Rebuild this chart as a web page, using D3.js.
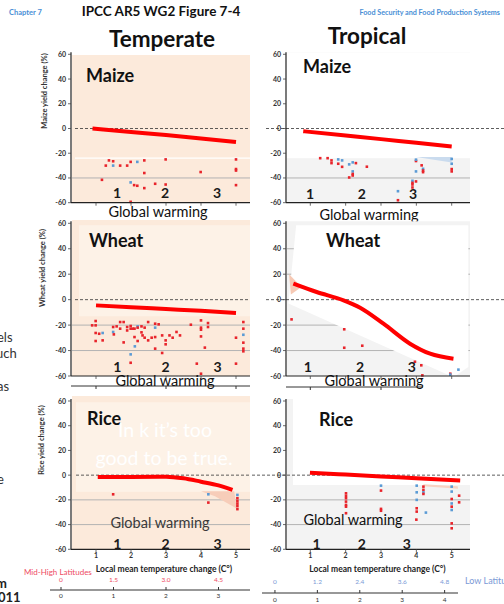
<!DOCTYPE html>
<html>
<head>
<meta charset="utf-8">
<script src="https://cdn.jsdelivr.net/npm/d3@7"></script>
<style>
  body { margin: 0; background: #fff; }
  svg { display: block; font-family: Lato, 'Open Sans', sans-serif; }
</style>
</head>
<body>
<svg id="chart" width="504" height="604"></svg>
<script>
// values: [local temperature change, yield change %, model group]
const maizeTemperate = [
  [1.17, -41.5, 'r'], [1.28, -30, 'r'], [1.37, -25.8, 'r'], [1.49, -26.5, 'r'], [1.49, -30, 'b'],
  [1.69, -30, 'r'], [1.89, -30, 'r'], [1.99, -27, 'r'], [2.18, -27, 'b'], [2.38, -25.8, 'r'],
  [2.38, -36, 'r'], [2.38, -48.2, 'r'], [1.99, -43.6, 'b'], [2.09, -45.8, 'r'], [2.18, -46.3, 'r'],
  [1.99, -59.3, 'r'], [2.69, -44.7, 'r'], [2.99, -25, 'r'], [2.99, -45.3, 'r'], [3.99, -35.2, 'r'],
  [5, -25, 'r'], [5, -32.8, 'r'], [5, -34, 'r'], [5, -45.8, 'r']
]
const maizeTropical = [
  [1.28, -24, 'r'], [1.49, -24, 'r'], [1.6, -25.8, 'r'], [1.6, -28, 'r'], [1.79, -25, 'b'],
  [1.9, -25.8, 'b'], [1.79, -28.5, 'r'], [1.9, -31, 'r'], [2.1, -29, 'b'], [2.2, -27.4, 'b'],
  [2.29, -28, 'r'], [2.2, -34.7, 'b'], [2.2, -36.8, 'r'], [2.2, -38, 'r'], [2.1, -39.6, 'r'],
  [2.6, -30.9, 'r'], [3.48, -50.7, 'b'], [3.48, -58, 'r'], [3.89, -42.3, 'b'], [3.89, -44, 'r'],
  [3.89, -45.3, 'r'], [3.89, -47.7, 'r'], [3.99, -42.8, 'r'], [3.99, -26.3, 'r'], [3.99, -25.2, 'b'],
  [3.99, -34.7, 'b'], [4.15, -29.8, 'r'], [4.19, -32.6, 'b'], [4.19, -34, 'r'], [4.19, -35.3, 'r'],
  [5, -24.6, 'b'], [5, -28.5, 'b'], [5, -32.8, 'r'], [5, -34.7, 'r']
]
const wheatTemperate = [
  [0.89, -20.2, 'r'], [0.99, -16.8, 'r'], [0.99, -20.2, 'r'], [0.99, -26.2, 'r'], [0.99, -32.5, 'r'],
  [1.09, -26.8, 'r'], [1.19, -26.2, 'b'], [1.19, -32, 'r'], [1.49, -25.4, 'b'], [1.49, -21.5, 'r'],
  [1.51, -27.3, 'r'], [1.59, -21, 'r'], [1.69, -17.6, 'r'], [1.69, -22.8, 'r'], [1.79, -17.6, 'r'],
  [1.79, -33.6, 'r'], [1.89, -21.5, 'r'], [1.89, -24.2, 'r'], [1.99, -22.8, 'r'], [1.99, -20.7, 'r'],
  [2.05, -22.8, 'r'], [2.1, -22.8, 'r'], [2.1, -29.4, 'r'], [2.11, -36.7, 'b'], [1.99, -43, 'b'],
  [1.99, -49.6, 'r'], [2.19, -21, 'b'], [2.19, -22, 'r'], [2.19, -32.5, 'r'], [2.3, -21, 'r'],
  [2.3, -25.7, 'r'], [2.33, -28.1, 'r'], [2.39, -22, 'r'], [2.39, -29.9, 'r'], [2.49, -17.6, 'r'],
  [2.49, -32, 'r'], [2.59, -29.9, 'r'], [2.69, -22, 'b'], [2.69, -18.9, 'r'], [2.69, -29.4, 'r'],
  [2.69, -38.5, 'r'], [2.79, -19.4, 'r'], [2.89, -28.1, 'r'], [2.89, -41.9, 'r'], [2.99, -32, 'r'],
  [2.99, -35.1, 'r'], [3.1, -28.1, 'r'], [3.19, -29.9, 'r'], [3.3, -25.4, 'r'], [3.4, -28.1, 'r'],
  [3.71, -19.7, 'r'], [3.88, -50.3, 'r'], [4, -16.3, 'r'], [4, -22, 'r'], [4, -23.6, 'r'],
  [4, -28.9, 'r'], [4, -58.2, 'r'], [4.11, -37.7, 'r'], [4.2, -18.4, 'r'], [4.2, -21.5, 'r'],
  [5, -29.9, 'r'], [5, -50.3, 'r'], [5.21, -17.6, 'r'], [5.21, -22.8, 'r'], [5.21, -27.6, 'b'],
  [5.21, -33.8, 'r'], [5.21, -38.5, 'r'], [5.21, -40.6, 'r']
]
const wheatTropical = [
  [0.47, -15.5, 'r'], [1.96, -23.3, 'r'], [1.96, -37.8, 'r'], [2.47, -36.2, 'r'], [3.96, -48.8, 'r'],
  [4.14, -51.6, 'r'], [4.17, -59.5, 'r'], [4.96, -58.2, 'r'], [4.96, -58.9, 'b'], [5.19, -55, 'b']
]
const riceTemperate = [
  [1.49, -15.5, 'r'], [4.21, -22.2, 'r'], [4.21, -15.5, 'b'], [5.04, -16, 'b'], [5.04, -18.7, 'r'],
  [5.04, -21, 'r'], [5.04, -23, 'r'], [5.04, -25, 'r'], [5.04, -27.5, 'r']
]
const riceTropical = [
  [2.01, -14.7, 'r'], [2.01, -16.8, 'r'], [2.01, -18.7, 'r'], [2.01, -21.4, 'r'], [2.01, -24.1, 'r'],
  [2.01, -25.5, 'r'], [2.01, -30.8, 'r'], [3, -8.5, 'b'], [3, -12.5, 'r'], [3, -27.3, 'r'],
  [3, -28.8, 'r'], [4.01, -8.5, 'b'], [4.01, -13.9, 'b'], [4.01, -20, 'b'], [4.01, -26.8, 'r'],
  [4.01, -29.5, 'r'], [4.2, -9.3, 'r'], [4.2, -11.9, 'r'], [4.2, -13.9, 'b'], [4.2, -15.2, 'r'],
  [4.27, -30.3, 'b'], [5, -9.3, 'b'], [5, -13.3, 'b'], [5, -19.3, 'r'], [5, -22.9, 'b'],
  [5, -25.5, 'r'], [5, -28.2, 'b'], [5.21, -16.6, 'r'], [5.21, -22, 'r'], [4, -36, 'r'],
  [5, -39, 'r'], [5, -43, 'r']
]

// fitted response curves
const maizeTemperateFit = [[0.9, 0], [2, -2.8], [3, -5.3], [4, -8], [5, -11]]
const maizeTropicalFit = [[0.8, -2.2], [2, -5.7], [3, -8.6], [4, -11.6], [5, -14.5]]
const wheatTemperateFit = [[1, -4.5], [2, -6], [3, -7.4], [4, -8.8], [5, -10.5]]
const wheatTropicalFit = [[0.52, 12.6], [1.18, 6], [1.94, -0.5], [2.41, -6.3], [3.07, -18.9], [3.82, -34.6], [4.39, -42.5], [5.05, -46.4]]
const riceTemperateFit = [[1.05, -1.5], [2, -1.4], [3, -1.2], [3.5, -2.5], [4, -5.3], [4.5, -8.3], [4.9, -12]]
const riceTropicalFit = [[0.99, 2], [2, 0.5], [3, -1], [4, -2.6], [5.24, -4.4]]

// confidence shading fragments
const maizeTropicalBand = [[3.99, -23], [5, -23], [5, -27.5]]
const riceTemperateBand = [[4.0, -13], [4.95, -13], [5.02, -27], [4.4, -17]]
const riceTropicalBand = [[4.2, -7.4], [5.17, -9], [5.18, -11], [4.2, -9]]
const wheatTropicalBand = [[0.4, 20], [0.75, 10], [0.45, 4]]
const wheatTropicalClear = [[0.6, 58.5], [5.47, 58.5], [5.47, -53], [5.05, -61], [0.38, -3]]

// axes
const localTicks = [1, 2, 3, 4, 5]
const yieldTicks = [60, 40, 20, 0, -20, -40, -60]
const warmingLabels = ['1', '2', '3']
const warmingPosMaizeT = [1.6, 2.97, 4.46]
const warmingPosMaizeTr = [0.99, 2.46, 3.91]
const warmingPosWheatT = [1.61, 2.99, 4.47]
const warmingPosWheatTr = [0.93, 2.41, 3.87]
const warmingPosRiceT = [1.61, 2.99, 4.47]
const warmingPosRiceTr = [1.18, 2.46, 3.73]
const midHighLocal = [0, 1.5, 3.0, 4.5]
const midHighLabels = ['0', '1.5', '3.0', '4.5']
const lowLatLocal = [0, 1.2, 2.4, 3.6, 4.8]
const lowLatLabels = ['0', '1.2', '2.4', '3.6', '4.8']
const globalTicksT = ['0', '1', '2', '3']
const globalTicksTr = ['0', '1', '2', '3', '4']

const RED = '#e8242b'
const BLUE = '#5b9bd5'
const BEIGE = '#fceadb'
const PALE = '#fdf2e7'
const GREYBG = '#f3f3f3'

const svg = d3.select('#chart')

const xL = d3.scaleLinear().domain([1, 5]).range([96, 236])
const xR = d3.scaleLinear().domain([1, 5]).range([310.3, 451.7])
const yMaize = d3.scaleLinear().domain([-60, 60]).range([202.7, 54.3])
const yWheat = d3.scaleLinear().domain([-60, 60]).range([376, 223.3])
const yRice = d3.scaleLinear().domain([-60, 60]).range([549.3, 401])

function txt (x, y, s, size, opts = {}) {
  return svg.append('text')
    .attr('x', x).attr('y', y)
    .attr('font-size', size)
    .attr('font-weight', opts.weight || 'normal')
    .attr('fill', opts.fill || '#111')
    .attr('text-anchor', opts.anchor || 'start')
    .text(s)
}

function drawPanel (p) {
  const { x, y } = p
  const g = svg.append('g')
  const top = y(60) - 2
  const bottom = y(-60)

  // backgrounds
  if (p.temperate) {
    g.append('rect').attr('x', p.left + 1).attr('y', p.bgTop).attr('width', p.right - p.left - 1)
      .attr('height', p.bgBottom - p.bgTop).attr('fill', BEIGE)
    if (p.pale) {
      g.append('rect').attr('x', p.pale[0]).attr('y', y(p.pale[1]))
        .attr('width', p.right - p.pale[0]).attr('height', y(p.pale[2]) - y(p.pale[1]))
        .attr('fill', PALE)
    }
  } else {
    g.append('rect').attr('x', p.left + 1).attr('y', top).attr('width', p.right - p.left - 1)
      .attr('height', bottom - top).attr('fill', GREYBG)
  }

  // grid lines
  p.grid.forEach(v => {
    g.append('line').attr('x1', p.left + 1).attr('x2', p.right)
      .attr('y1', y(v)).attr('y2', y(v))
      .attr('stroke', '#b3b3b3').attr('stroke-width', 1)
  })
  if (p.edgeTicks) {
    p.edgeTicks.forEach(v => {
      g.append('line').attr('x1', p.right - 6).attr('x2', p.right)
        .attr('y1', y(v)).attr('y2', y(v)).attr('stroke', '#bbb')
    })
  }

  if (p.clearAbove !== undefined) {
    g.append('rect').attr('x', p.clearLeft).attr('y', top)
      .attr('width', p.right - p.clearLeft).attr('height', y(p.clearAbove) - top)
      .attr('fill', '#fff')
  }
  if (p.whiteLine !== undefined) {
    g.append('line').attr('x1', p.left + 4).attr('x2', p.right)
      .attr('y1', y(p.whiteLine)).attr('y2', y(p.whiteLine))
      .attr('stroke', '#fff').attr('stroke-width', 1.2)
  }
  if (p.clearPoly) {
    g.append('path')
      .attr('d', d3.line().x(d => x(d[0])).y(d => y(d[1]))(p.clearPoly) + 'Z')
      .attr('fill', '#fff')
  }

  // shading fragments
  ;(p.bands || []).forEach(b => {
    g.append('path')
      .attr('d', d3.line().x(d => x(d[0])).y(d => y(d[1]))(b.pts) + 'Z')
      .attr('fill', b.color)
  })

  // zero line
  g.append('line').attr('x1', p.zeroFrom).attr('x2', p.zeroTo)
    .attr('y1', y(0)).attr('y2', y(0))
    .attr('stroke', '#333').attr('stroke-width', 0.8).attr('stroke-dasharray', '3,2')

  // points
  g.selectAll('rect.pt')
    .data(p.points)
    .join('rect')
    .attr('class', 'pt')
    .attr('x', d => x(d[0]) - 1.3)
    .attr('y', d => y(d[1]) - 1.3)
    .attr('width', 2.6)
    .attr('height', 2.6)
    .attr('fill', d => d[2] === 'b' ? BLUE : RED)

  // fitted curve
  g.append('path')
    .datum(p.fit)
    .attr('d', d3.line().x(d => x(d[0])).y(d => y(d[1])).curve(d3.curveMonotoneX))
    .attr('fill', 'none')
    .attr('stroke', '#ff0000')
    .attr('stroke-width', 4)

  // y axis
  g.append('line').attr('x1', p.left).attr('x2', p.left).attr('y1', top).attr('y2', bottom)
    .attr('stroke', '#222').attr('stroke-width', 1.2)
  yieldTicks.forEach(v => {
    g.append('line').attr('x1', p.left - 3).attr('x2', p.left).attr('y1', y(v)).attr('y2', y(v))
      .attr('stroke', '#444').attr('stroke-width', 0.8)
    g.append('text').attr('x', p.left - 5).attr('y', y(v) + 2.5)
      .attr('text-anchor', 'end').attr('font-size', 7).attr('font-weight', 'bold')
      .attr('fill', '#333').text(v)
  })

  // x axis
  g.append('line').attr('x1', p.left).attr('x2', p.right).attr('y1', bottom).attr('y2', bottom)
    .attr('stroke', '#222').attr('stroke-width', 1.2)
  localTicks.forEach(v => {
    g.append('line').attr('x1', x(v)).attr('x2', x(v)).attr('y1', bottom).attr('y2', bottom + 3)
      .attr('stroke', '#444').attr('stroke-width', 0.8)
    if (p.tickLabels) {
      g.append('text').attr('x', x(v)).attr('y', bottom + 9).attr('text-anchor', 'middle')
        .attr('font-size', 7).attr('font-weight', 'bold').attr('fill', '#333').text(v)
    }
  })

  if (p.underline) {
    g.append('line').attr('x1', p.left).attr('x2', p.underline.to)
      .attr('y1', p.underline.y).attr('y2', p.underline.y)
      .attr('stroke', '#333').attr('stroke-width', 1)
    ;[1, 3, 5].forEach(v => {
      if (x(v) < p.underline.to) {
        g.append('line').attr('x1', x(v)).attr('x2', x(v))
          .attr('y1', p.underline.y).attr('y2', p.underline.y + 3).attr('stroke', '#333')
      }
    })
  }

  // crop name and warming markers
  txt(p.nameX, p.nameY, p.name, 18, { weight: 'bold' })
  warmingLabels.forEach((s, i) => {
    txt(x(p.warmPos[i]), p.warmY, s, 14, { weight: 'bold', anchor: 'middle', fill: '#1a1a1a' })
  })
  txt(p.gwX, p.gwY, 'Global warming', 14.5, { anchor: 'middle', fill: p.gwFill || '#111' })

  if (p.yTitle) {
    svg.append('text')
      .attr('transform', `translate(${p.yTitle.x},${p.yTitle.y}) rotate(-90)`)
      .attr('text-anchor', 'middle').attr('font-size', 7.5).attr('font-weight', 'bold')
      .attr('fill', '#333').text(p.yTitle.s)
  }
}

// Row 1: maize
drawPanel({
  x: xL, y: yMaize, left: 71, right: 250, temperate: true, bgTop: 55, bgBottom: 203,
  grid: [-40], whiteLine: -24, zeroFrom: 75, zeroTo: 250,
  points: maizeTemperate, fit: maizeTemperateFit,
  name: 'Maize', nameX: 86, nameY: 82, warmPos: warmingPosMaizeT, warmY: 198,
  gwX: 158, gwY: 217, yTitle: { x: 47, y: 91, s: 'Maize yield change (%)' }
})
drawPanel({
  x: xR, y: yMaize, left: 286, right: 470, temperate: false,
  grid: [-40], edgeTicks: [40, 20, -20], clearAbove: -24, clearLeft: 287,
  bands: [{ pts: maizeTropicalBand, color: '#cadbee' }],
  zeroFrom: 266, zeroTo: 504,
  points: maizeTropical, fit: maizeTropicalFit,
  name: 'Maize', nameX: 303, nameY: 73, warmPos: warmingPosMaizeTr, warmY: 199,
  gwX: 369, gwY: 220
})

// Row 2: wheat
drawPanel({
  x: xL, y: yWheat, left: 71, right: 250, temperate: true, bgTop: 220, bgBottom: 376,
  pale: [79, 58.5, -13], grid: [-20, -40], zeroFrom: 75, zeroTo: 250,
  points: wheatTemperate, fit: wheatTemperateFit,
  name: 'Wheat', nameX: 89, nameY: 247, warmPos: warmingPosWheatT, warmY: 371.5,
  gwX: 165, gwY: 386, underline: { y: 386, to: 250 },
  yTitle: { x: 45, y: 268, s: 'Wheat yield change (%)' }
})
drawPanel({
  x: xR, y: yWheat, left: 286, right: 470, temperate: false,
  grid: [40, 20, -20, -40], clearPoly: wheatTropicalClear,
  bands: [{ pts: wheatTropicalBand, color: '#f6c9b4' }],
  zeroFrom: 266, zeroTo: 504,
  points: wheatTropical, fit: wheatTropicalFit,
  name: 'Wheat', nameX: 326, nameY: 247, warmPos: warmingPosWheatTr, warmY: 371.5,
  gwX: 374, gwY: 386, underline: { y: 387, to: 423 }
})

// Row 3: rice
drawPanel({
  x: xL, y: yRice, left: 71, right: 250, temperate: true, bgTop: 396, bgBottom: 550,
  pale: [76, 59, -13.5], grid: [-20, -40], zeroFrom: 76, zeroTo: 250,
  bands: [{ pts: riceTemperateBand, color: '#f7cdb9' }],
  points: riceTemperate, fit: riceTemperateFit, tickLabels: true,
  name: 'Rice', nameX: 87, nameY: 425, warmPos: warmingPosRiceT, warmY: 549,
  gwX: 160, gwY: 528, gwFill: '#3a3a3a',
  yTitle: { x: 44, y: 440, s: 'Rice yield change (%)' }
})
drawPanel({
  x: xR, y: yRice, left: 286, right: 470, temperate: false,
  grid: [-20, -40], edgeTicks: [40, 20], clearAbove: -8, clearLeft: 293,
  bands: [{ pts: riceTropicalBand, color: '#f8d2c2' }],
  zeroFrom: 252, zeroTo: 504,
  points: riceTropical, fit: riceTropicalFit, tickLabels: true,
  name: 'Rice', nameX: 319, nameY: 426, warmPos: warmingPosRiceTr, warmY: 549,
  gwX: 353, gwY: 525
})

// overlay caption on rice panel
txt(165, 437, 'In k it’s too', 19.5, { anchor: 'middle', fill: '#ffffff' })
txt(164, 465, 'good to be true.', 19.5, { anchor: 'middle', fill: '#ffffff' })

// headings
txt(9, 15, 'Chapter 7', 7.5, { weight: 'bold', fill: '#4a8fd6' })
txt(500, 15, 'Food Security and Food Production Systems', 7.2, { weight: 'bold', fill: '#4a8fd6', anchor: 'end' })
txt(161, 16, 'IPCC AR5 WG2 Figure 7-4', 13.5, { weight: 'bold', anchor: 'middle', fill: '#111' })
txt(162, 47, 'Temperate', 22.5, { weight: 'bold', anchor: 'middle', fill: '#111' })
txt(367, 44, 'Tropical', 22.5, { weight: 'bold', anchor: 'middle', fill: '#111' })

// local temperature axis titles
txt(164, 572, 'Local mean temperature change (C°)', 8.5, { weight: 'bold', anchor: 'middle', fill: '#222' })
txt(377.5, 572, 'Local mean temperature change (C°)', 8.5, { weight: 'bold', anchor: 'middle', fill: '#222' })

// mid-high latitude global warming scale
txt(24, 575, 'Mid-High Latitudes', 8, { fill: '#ee4b63' })
midHighLocal.forEach((v, i) => {
  txt(xL(v), 582, midHighLabels[i], 6.5, { fill: '#ee4b63', anchor: 'middle' })
})
svg.append('line').attr('x1', 50).attr('x2', 250).attr('y1', 590).attr('y2', 590)
  .attr('stroke', '#333').attr('stroke-width', 1.2)
midHighLocal.forEach((v, i) => {
  svg.append('line').attr('x1', xL(v)).attr('x2', xL(v)).attr('y1', 587).attr('y2', 590).attr('stroke', '#333')
  txt(xL(v), 598, globalTicksT[i], 6.5, { anchor: 'middle', fill: '#333' })
})

// low latitude global warming scale
lowLatLocal.forEach((v, i) => {
  txt(xR(v), 584, lowLatLabels[i], 6.5, { fill: '#7b9ad6', anchor: 'middle' })
})
txt(465, 584, 'Low Latitudes', 9, { fill: '#7b9ad6' })
svg.append('line').attr('x1', 262).attr('x2', 458).attr('y1', 593).attr('y2', 593)
  .attr('stroke', '#333').attr('stroke-width', 1.2)
lowLatLocal.forEach((v, i) => {
  svg.append('line').attr('x1', xR(v)).attr('x2', xR(v)).attr('y1', 590).attr('y2', 593).attr('stroke', '#333')
  txt(xR(v), 602, globalTicksTr[i], 6.5, { anchor: 'middle', fill: '#333' })
})

// fragments of neighbouring page text
txt(-3, 342, 'els', 13, { fill: '#333' })
txt(-4, 358, 'uch', 13, { fill: '#333' })
txt(-3, 391, 'as', 13, { fill: '#333' })
txt(-3, 484, 'e', 13, { fill: '#333' })
txt(-4, 588, 'm', 13, { fill: '#222', weight: 'bold' })
txt(-2, 602, '011', 13, { fill: '#222', weight: 'bold' })
</script>
</body>
</html>
